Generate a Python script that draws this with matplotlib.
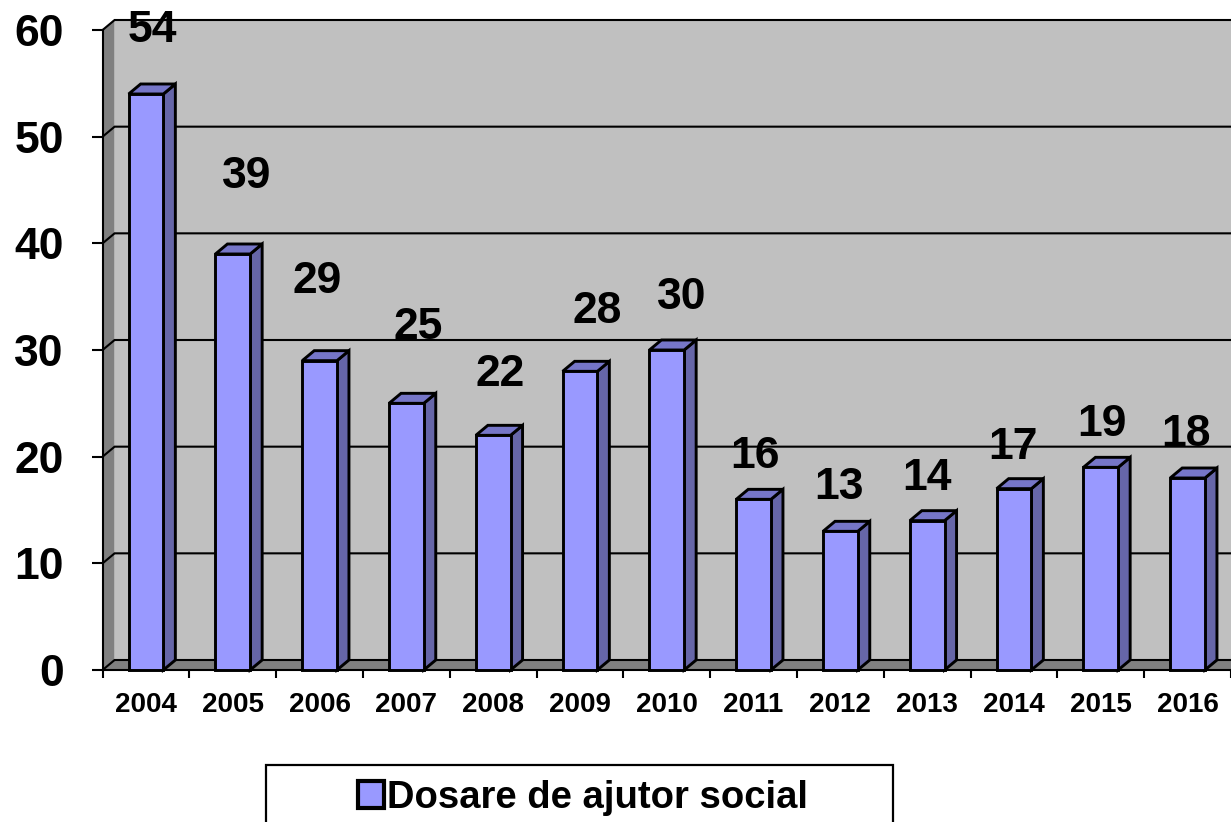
import numpy as np
import matplotlib
matplotlib.use("Agg")
import matplotlib.pyplot as plt
from matplotlib.patches import Polygon, Rectangle

plt.rcParams['font.family'] = ['Liberation Sans', 'DejaVu Sans']

# --- datos ---
years = ['2004', '2005', '2006', '2007', '2008', '2009', '2010',
         '2011', '2012', '2013', '2014', '2015', '2016']
dosare = [54, 39, 29, 25, 22, 28, 30, 16, 13, 14, 17, 19, 18]
y_ticks = [0, 10, 20, 30, 40, 50, 60]
legend_label = 'Dosare de ajutor social'

# desplazamiento de las etiquetas (px a la derecha, unidades de datos hacia arriba)
label_dx_px = [6, 14, -2, 12, 7, 17, 15, 1, -1, 0, -1, 1, -2]
label_rise = [6.0, 7.3, 7.4, 7.1, 5.7, 5.6, 4.9, 4.0, 4.1, 4.0, 3.9, 4.0, 4.1]

# --- estilo ---
WALL = '#c0c0c0'
SIDE_WALL = '#808080'
FRONT = '#9999ff'
SIDE = '#6666a8'
TOP = '#7676c8'
EDGE_LW = 2.1

W, H = 1231, 822
fig = plt.figure(figsize=(W / 100, H / 100), dpi=100)
fig.patch.set_facecolor('white')

left_px, bottom_px, top_px = 102.6, 670, 30
ax = fig.add_axes([left_px / W, (H - bottom_px) / H,
                   (W - left_px) / W, (bottom_px - top_px) / H])
ax.set_xlim(-0.5, 12.5)
ax.set_ylim(0, 60)
ax.patch.set_visible(False)

# profundidad "3D" en unidades de datos
px_x = (W - left_px) / 13
px_y = (bottom_px - top_px) / 60
DX, DY = 12 / px_x, 10 / px_y
BW = 0.40

x = np.arange(len(years))
x0, x1 = -0.5, 12.5
ymax = y_ticks[-1]

# pared del fondo, pared izquierda y piso
ax.add_patch(Rectangle((x0 + DX, DY), x1 - x0, ymax, fc=WALL, ec='none',
                       zorder=0, clip_on=False))
ax.add_patch(Polygon([(x0, 0), (x0, ymax), (x0 + DX, ymax + DY), (x0 + DX, DY)],
                     fc=SIDE_WALL, ec='none', zorder=0.5, clip_on=False))
ax.add_patch(Polygon([(x0, 0), (x1, 0), (x1 + DX, DY), (x0 + DX, DY)],
                     fc=SIDE_WALL, ec='none', zorder=0.5, clip_on=False))

# grilla sobre las paredes
for t in y_ticks:
    ax.plot([x0, x0 + DX, x1 + DX], [t, t + DY, t + DY], color='black',
            lw=1.5, zorder=1, clip_on=False, solid_joinstyle='miter')

# barras: caras laterales y superiores, después el frente
for xi, v in zip(x, dosare):
    r = xi + BW / 2
    l = xi - BW / 2
    ax.add_patch(Polygon([(r, 0), (r, v), (r + DX, v + DY), (r + DX, DY)],
                         fc=SIDE, ec='black', lw=EDGE_LW, zorder=2, clip_on=False))
    ax.add_patch(Polygon([(l, v), (r, v), (r + DX, v + DY), (l + DX, v + DY)],
                         fc=TOP, ec='black', lw=EDGE_LW, zorder=2, clip_on=False))
ax.bar(x, dosare, width=BW, color=FRONT, edgecolor='black', linewidth=EDGE_LW,
       zorder=3, clip_on=False)

for xi, v, dxp, rise in zip(x, dosare, label_dx_px, label_rise):
    ax.annotate(str(v), xy=(xi, v + rise), xytext=(dxp * 0.72, 0),
                textcoords='offset points', ha='center', va='center',
                fontsize=32, fontweight='bold', zorder=5, annotation_clip=False)

# ejes
ax.set_yticks(y_ticks)
ax.set_yticklabels([str(t) for t in y_ticks], fontsize=32, fontweight='bold')
ax.tick_params(axis='y', length=8, width=1.5, pad=20, direction='out')
ax.set_xticks(x)
ax.set_xticklabels(years, fontsize=20, fontweight='bold')
ax.set_xticks(np.arange(len(years) + 1) - 0.5, minor=True)
ax.tick_params(axis='x', which='major', length=0, pad=16)
ax.tick_params(axis='x', which='minor', length=6, width=1.5, direction='out')
for s in ['top', 'right']:
    ax.spines[s].set_visible(False)
for s in ['left', 'bottom']:
    ax.spines[s].set_linewidth(1.5)
    ax.spines[s].set_zorder(1.5)

# leyenda (caja cortada por el borde inferior, como en el original)
fig.add_artist(Rectangle((266 / W, -0.05), (893 - 266) / W, (H - 765) / H + 0.05,
                         transform=fig.transFigure, fc='white', ec='black', lw=1.6))
handle = Rectangle((0, 0), 1, 1, fc=FRONT, ec='black', lw=3)
fig.legend([handle], [legend_label], loc='center',
           bbox_to_anchor=(583 / W, 1 - 798 / H), frameon=False,
           prop=dict(weight='bold', size=27.5), handlelength=0.68,
           handleheight=0.68, handletextpad=0.1)

fig.savefig('out.png', dpi=100)
